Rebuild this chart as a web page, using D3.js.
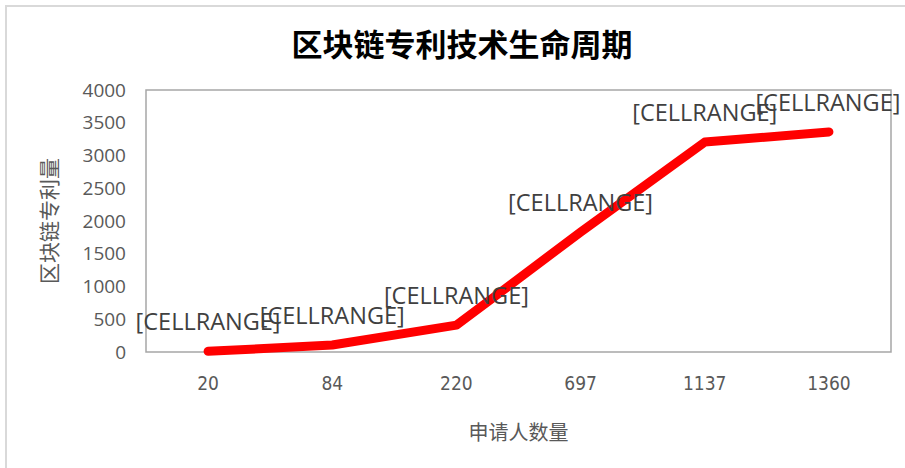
<!DOCTYPE html>
<html>
<head>
<meta charset="utf-8">
<script src="https://cdn.jsdelivr.net/npm/d3@7"></script>
<style>
  body { margin: 0; background: #fff; }
  text { font-family: "Open Sans", "Noto Sans CJK SC", sans-serif; }
</style>
</head>
<body>
<div id="chart"></div>
<script>
// applicants (category axis) and patent counts
const applicants = ["20", "84", "220", "697", "1137", "1360"];
const patents = [10, 107, 410, 1830, 3205, 3360];
const labels = ["[CELLRANGE]", "[CELLRANGE]", "[CELLRANGE]", "[CELLRANGE]", "[CELLRANGE]", "[CELLRANGE]"];
const yTicks = [0, 500, 1000, 1500, 2000, 2500, 3000, 3500, 4000];

const W = 905, H = 468;
const m = {top: 90, right: 14, bottom: 116, left: 146};

const svg = d3.select("#chart").append("svg")
    .attr("width", W)
    .attr("height", H);

// outer chart frame (only top/left visible in crop)
svg.append("path")
    .attr("d", `M6,${H} V6 H${W}`)
    .attr("fill", "none")
    .attr("stroke", "#d9d9d9")
    .attr("stroke-width", 2);

const x = d3.scaleBand()
    .domain(applicants)
    .range([m.left, W - m.right]);

const y = d3.scaleLinear()
    .domain([0, 4000])
    .range([H - m.bottom, m.top]);

// plot area box
svg.append("rect")
    .attr("x", m.left)
    .attr("y", m.top)
    .attr("width", W - m.right - m.left)
    .attr("height", H - m.bottom - m.top)
    .attr("fill", "none")
    .attr("stroke", "#a6a6a6")
    .attr("stroke-width", 1.5);

// y axis
const yAxis = svg.append("g")
    .attr("transform", `translate(${m.left},0)`)
    .call(d3.axisLeft(y).tickValues(yTicks).tickFormat(d3.format("d")).tickSize(0).tickPadding(20));
yAxis.select(".domain").remove();
yAxis.selectAll("text")
    .attr("fill", "#595959")
    .style("font-size", "19px");

// x axis
const xAxis = svg.append("g")
    .attr("transform", `translate(0,${H - m.bottom})`)
    .call(d3.axisBottom(x).tickSize(0).tickPadding(25));
xAxis.select(".domain").remove();
xAxis.selectAll("text")
    .attr("fill", "#595959")
    .style("font-size", "19px")
    .style("font-family", "'Liberation Sans Narrow', 'DejaVu Sans Condensed', sans-serif");

// line
const line = d3.line()
    .x((d, i) => x(applicants[i]) + x.bandwidth() / 2)
    .y(d => y(d));

svg.append("path")
    .datum(patents)
    .attr("d", line)
    .attr("fill", "none")
    .attr("stroke", "#ff0000")
    .attr("stroke-width", 9)
    .attr("stroke-linecap", "round")
    .attr("stroke-linejoin", "round");

// data labels
svg.append("g").selectAll("text")
    .data(patents)
    .join("text")
    .attr("x", (d, i) => x(applicants[i]) + x.bandwidth() / 2 - (i === 5 ? 1 : 0))
    .attr("y", d => y(d) - 21)
    .attr("text-anchor", "middle")
    .attr("fill", "#404040")
    .style("font-size", "23.5px")
    .text((d, i) => labels[i]);

// title
svg.append("text")
    .attr("x", 462)
    .attr("y", 56)
    .attr("text-anchor", "middle")
    .style("font-family", "'Noto Sans CJK SC', sans-serif")
    .style("font-weight", "bold")
    .style("font-size", "31px")
    .attr("fill", "#000")
    .text("区块链专利技术生命周期");

// axis titles
svg.append("text")
    .attr("transform", `translate(57,${(m.top + H - m.bottom) / 2}) rotate(-90)`)
    .attr("text-anchor", "middle")
    .style("font-family", "'Noto Sans CJK SC', sans-serif")
    .style("font-size", "21px")
    .attr("fill", "#595959")
    .text("区块链专利量");

svg.append("text")
    .attr("x", (m.left + W - m.right) / 2)
    .attr("y", 440)
    .attr("text-anchor", "middle")
    .style("font-family", "'Noto Sans CJK SC', sans-serif")
    .style("font-size", "20px")
    .attr("fill", "#595959")
    .text("申请人数量");
</script>
</body>
</html>
